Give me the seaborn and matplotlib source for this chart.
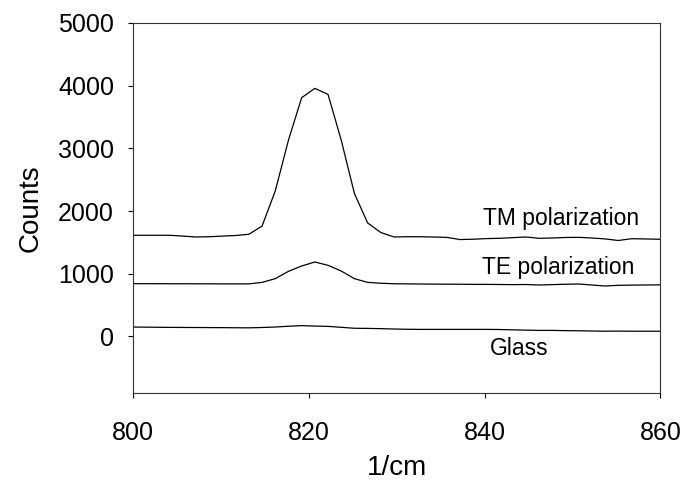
import numpy as np
import pandas as pd
import matplotlib
matplotlib.use("Agg")
import matplotlib.pyplot as plt
import seaborn as sns

# wavenumber grid (1/cm)
wavenumber = [799.7, 801.2, 802.7, 804.2, 805.7, 807.2, 808.7, 810.2, 811.7, 813.2,
              814.7, 816.2, 817.7, 819.2, 820.7, 822.2, 823.7, 825.2, 826.7, 828.2,
              829.7, 831.2, 832.7, 834.2, 835.7, 837.2, 838.7, 840.2, 841.7, 843.2,
              844.7, 846.2, 847.7, 849.2, 850.7, 852.2, 853.7, 855.2, 856.7, 858.2,
              859.7, 861.2]

tm_counts = [1613, 1613, 1613, 1613, 1600, 1586, 1590, 1600, 1610, 1629,
             1760, 2320, 3130, 3807, 3957, 3860, 3131, 2280, 1810, 1657,
             1586, 1590, 1590, 1585, 1580, 1545, 1550, 1560, 1565, 1575,
             1586, 1565, 1570, 1578, 1580, 1570, 1555, 1530, 1558, 1555,
             1550, 1550]

te_counts = [841, 841, 841, 840, 840, 839, 839, 838, 838, 838,
             862, 921, 1038, 1123, 1187, 1134, 1043, 921, 862, 848,
             840, 838, 836, 834, 833, 832, 830, 830, 828, 826,
             828, 820, 826, 832, 836, 820, 804, 815, 818, 820,
             822, 822]

glass_counts = [150, 148, 146, 144, 143, 142, 141, 140, 138, 137,
                142, 150, 162, 172, 165, 160, 145, 130, 128, 124,
                118, 114, 112, 112, 112, 112, 112, 112, 110, 105,
                100, 96, 96, 92, 90, 86, 83, 85, 83, 83,
                83, 83]

series_names = ["TM polarization", "TE polarization", "Glass"]
x_ticks = [800, 820, 840, 860]
y_ticks = [0, 1000, 2000, 3000, 4000, 5000]

sns.set_style("ticks")
plt.rcParams["font.family"] = ["Liberation Sans", "DejaVu Sans"]
plt.rcParams["text.color"] = "black"
plt.rcParams["axes.labelcolor"] = "black"

df = pd.DataFrame({
    "x": wavenumber * 3,
    "y": tm_counts + te_counts + glass_counts,
    "series": [series_names[0]] * len(wavenumber)
              + [series_names[1]] * len(wavenumber)
              + [series_names[2]] * len(wavenumber),
})

fig = plt.figure(figsize=(6.88, 4.88), dpi=100)
ax = fig.add_axes([0.193, 0.195, 0.767, 0.758])

sns.lineplot(data=df, x="x", y="y", units="series", estimator=None,
             color="black", linewidth=0.9, ax=ax, legend=False)

ax.set_xlim(800, 860)
ax.set_ylim(-900, 5000)
ax.set_xticks(x_ticks)
ax.set_yticks(y_ticks)
ax.tick_params(axis="both", direction="out", length=3.6, width=0.8,
               labelsize=18, colors="black")
ax.tick_params(axis="x", pad=17)
ax.tick_params(axis="y", pad=10)
for s in ax.spines.values():
    s.set_visible(True)
    s.set_linewidth(0.8)
    s.set_color("#333333")

ax.set_xlabel("1/cm", fontsize=20, labelpad=7, color="black")
ax.set_ylabel("Counts", fontsize=20, labelpad=10, color="black")

ax.text(848.75, 1773, "TM polarization", ha="center", va="baseline",
        fontsize=16.5, color="black")
ax.text(848.4, 1002, "TE polarization", ha="center", va="baseline",
        fontsize=16.5, color="black")
ax.text(843.9, -292, "Glass", ha="center", va="baseline",
        fontsize=16.5, color="black")

fig.savefig("out.png", dpi=100)
